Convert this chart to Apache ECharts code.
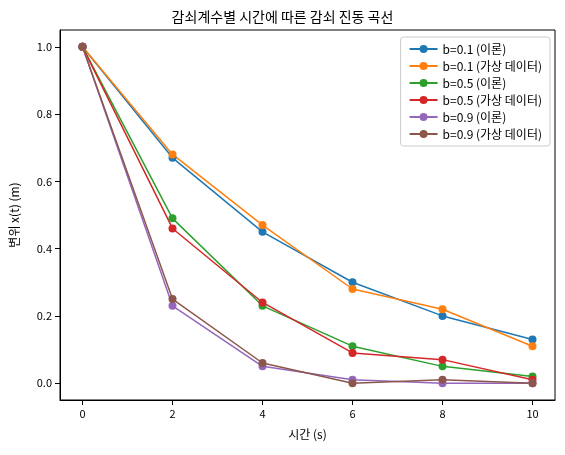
<!DOCTYPE html>
<html><head><meta charset="utf-8">
<script src="https://cdn.jsdelivr.net/npm/echarts@6/dist/echarts.min.js"></script>
<style>body{margin:0}#container{width:565px;height:455px}</style>
</head><body><div id="container"></div>
<script>
var times = [0, 2, 4, 6, 8, 10];
var names = ['b=0.1 (이론)', 'b=0.1 (가상 데이터)', 'b=0.5 (이론)', 'b=0.5 (가상 데이터)', 'b=0.9 (이론)', 'b=0.9 (가상 데이터)'];
var colors = ['#1f77b4', '#ff7f0e', '#2ca02c', '#d62728', '#9467bd', '#8c564b'];
var b01Theory = [1, 0.67, 0.45, 0.30, 0.20, 0.13];
var b01Fake = [1, 0.68, 0.47, 0.28, 0.22, 0.11];
var b05Theory = [1, 0.49, 0.23, 0.11, 0.05, 0.02];
var b05Fake = [1, 0.46, 0.24, 0.09, 0.07, 0.01];
var b09Theory = [1, 0.23, 0.05, 0.01, 0.00, 0.00];
var b09Fake = [1, 0.25, 0.06, 0.00, 0.01, 0.00];
var xTicks = [0, 2, 4, 6, 8, 10];
var yTicks = [0, 0.2, 0.4, 0.6, 0.8, 1.0];

var allData = [b01Theory, b01Fake, b05Theory, b05Fake, b09Theory, b09Fake];
var font = '"Noto Sans CJK KR", "Noto Sans", sans-serif';
var myChart = echarts.init(document.getElementById('container'));
var series = [];
for (var i = 0; i < names.length; i++) {
    series.push({
        name: names[i], type: 'line', color: colors[i],
        symbol: 'circle', symbolSize: 8, animation: false,
        lineStyle: {width: 1.5},
        data: times.map(function (t, j) { return [t, allData[i][j]]; })
    });
}
var option = {
    textStyle: {fontFamily: font},
    title: {text: '감쇠계수별 시간에 따른 감쇠 진동 곡선', left: 'center', top: 5,
        textStyle: {fontSize: 14, fontWeight: 'normal', color: '#000', fontFamily: font}},
    grid: {left: 60, right: 10, top: 30, bottom: 55, show: true, borderColor: '#000', borderWidth: 1},
    legend: {orient: 'vertical', right: 15, top: 37, itemGap: 5, itemWidth: 28, itemHeight: 10,
        borderColor: '#ccc', borderWidth: 1, borderRadius: 3, padding: [6, 8],
        textStyle: {fontSize: 12, color: '#000', fontFamily: font}},
    xAxis: {
        type: 'value', min: -0.5, max: 10.5,
        name: '시간 (s)', nameLocation: 'middle', nameGap: 28,
        nameTextStyle: {color: '#000', fontSize: 12},
        splitLine: {show: false},
        axisLine: {onZero: false, lineStyle: {color: '#000'}},
        axisTick: {show: true, customValues: xTicks, lineStyle: {color: '#000'}},
        axisLabel: {customValues: xTicks, color: '#000', fontSize: 11}
    },
    yAxis: {
        type: 'value', min: -0.05, max: 1.05,
        name: '변위 x(t) (m)', nameLocation: 'middle', nameGap: 40,
        nameTextStyle: {color: '#000', fontSize: 12},
        splitLine: {show: false},
        axisLine: {show: true, onZero: false, lineStyle: {color: '#000'}},
        axisTick: {show: true, customValues: yTicks, lineStyle: {color: '#000'}},
        axisLabel: {customValues: yTicks, color: '#000', fontSize: 11,
            formatter: function (v) { return v.toFixed(1); }}
    },
    series: series
};
myChart.setOption(option);
</script></body></html>
